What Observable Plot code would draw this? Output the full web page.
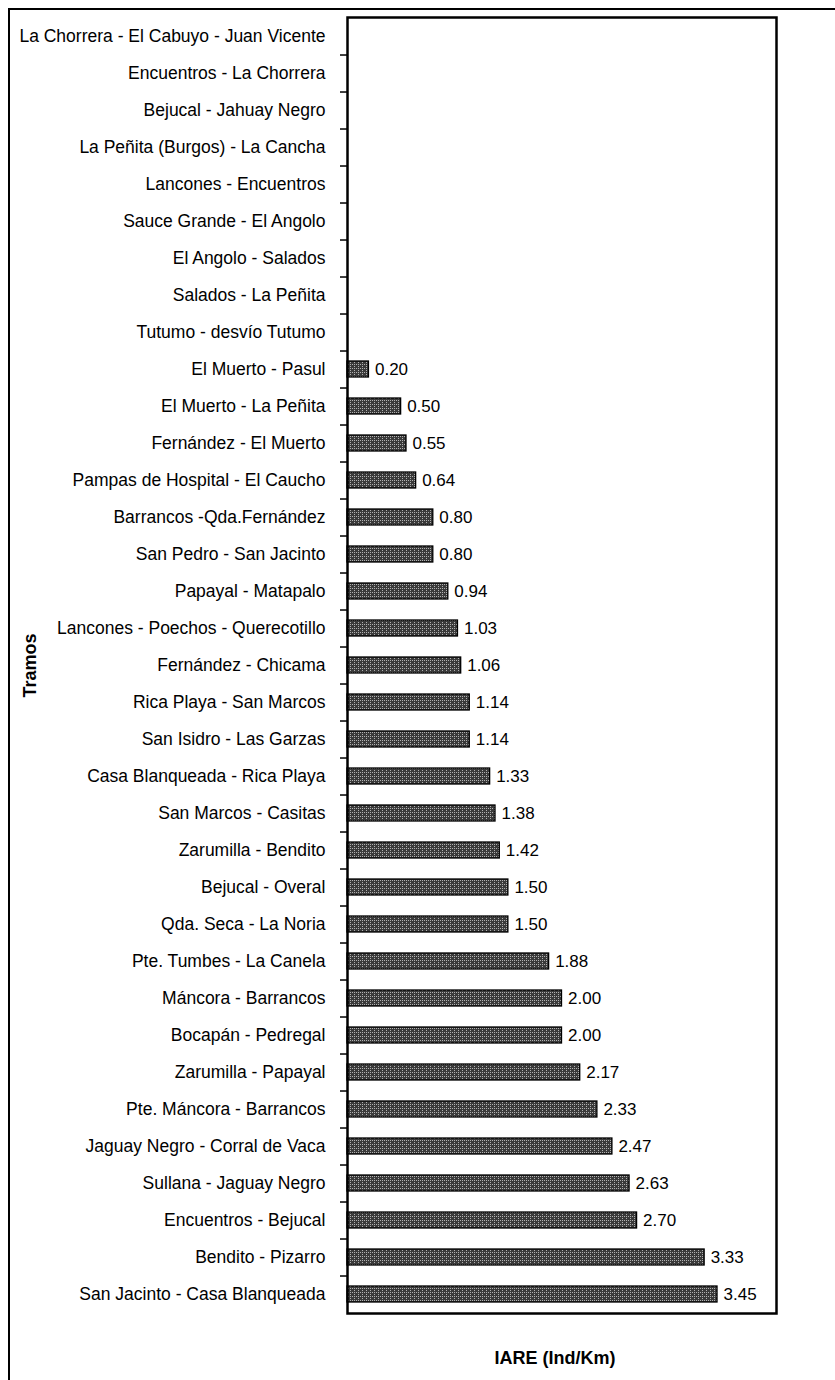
<!DOCTYPE html>
<html>
<head>
<meta charset="utf-8">
<script src="https://cdn.jsdelivr.net/npm/d3@7"></script>
<script src="https://cdn.jsdelivr.net/npm/@observablehq/plot@0.6"></script>
<style>
  html, body { margin: 0; padding: 0; background: #fff; }
  #wrap { position: relative; width: 835px; height: 1380px; overflow: hidden; }
  #border { position: absolute; left: 8px; top: 8px; width: 900px; height: 1450px;
            border-left: 2px solid #000; border-top: 2px solid #000; }
  #chart { position: absolute; left: 0; top: 0; }
  svg { font-family: "Liberation Sans", Arial, sans-serif; }
</style>
</head>
<body>
<div id="wrap"><div id="border"></div><div id="chart"></div></div>
<script>
const tramos = [
  "La Chorrera - El Cabuyo - Juan Vicente",
  "Encuentros - La Chorrera",
  "Bejucal - Jahuay Negro",
  "La Peñita (Burgos) - La Cancha",
  "Lancones - Encuentros",
  "Sauce Grande - El Angolo",
  "El Angolo - Salados",
  "Salados - La Peñita",
  "Tutumo - desvío Tutumo",
  "El Muerto - Pasul",
  "El Muerto - La Peñita",
  "Fernández - El Muerto",
  "Pampas de Hospital - El Caucho",
  "Barrancos -Qda.Fernández",
  "San Pedro - San Jacinto",
  "Papayal - Matapalo",
  "Lancones - Poechos - Querecotillo",
  "Fernández - Chicama",
  "Rica Playa - San Marcos",
  "San Isidro - Las Garzas",
  "Casa Blanqueada - Rica Playa",
  "San Marcos - Casitas",
  "Zarumilla - Bendito",
  "Bejucal - Overal",
  "Qda. Seca - La Noria",
  "Pte. Tumbes - La Canela",
  "Máncora - Barrancos",
  "Bocapán - Pedregal",
  "Zarumilla - Papayal",
  "Pte. Máncora - Barrancos",
  "Jaguay Negro - Corral de Vaca",
  "Sullana - Jaguay Negro",
  "Encuentros - Bejucal",
  "Bendito - Pizarro",
  "San Jacinto - Casa Blanqueada"
];
const iare = [
  null, null, null, null, null, null, null, null, null,
  0.20, 0.50, 0.55, 0.64, 0.80, 0.80, 0.94, 1.03, 1.06, 1.14, 1.14,
  1.33, 1.38, 1.42, 1.50, 1.50, 1.88, 2.00, 2.00, 2.17, 2.33,
  2.47, 2.63, 2.70, 3.33, 3.45
];
const xDomain = [0, 4];
const xTitle = "IARE (Ind/Km)";
const yTitle = "Tramos";

const rows = tramos.map((t, i) => ({tramo: t, value: iare[i]}));
const withValue = rows.filter(d => d.value != null);

const W = 835, H = 1380;
const mL = 347, mR = 59, mT = 17, mB = 67;
const step = (H - mT - mB) / tramos.length;

const chart = Plot.plot({
  width: W, height: H,
  marginLeft: mL, marginRight: mR, marginTop: mT, marginBottom: mB,
  style: {fontFamily: '"Liberation Sans", Arial, sans-serif', background: "transparent", overflow: "visible"},
  x: {domain: xDomain, axis: null},
  y: {domain: tramos, paddingInner: 0.56, paddingOuter: 0.28, axis: null},
  marks: [
    Plot.axisY({tickSize: 0, tickPadding: 22, fontSize: 17.5, fill: "#000", label: null}),
    // tick marks at the boundaries between categories, pointing outward
    Plot.ruleY(tramos.slice(0, -1), {y: d => d, x1: 0, x2: 0, insetLeft: -7, dy: step / 2, stroke: "#000", strokeWidth: 1.5}),
    Plot.barX(withValue, {y: "tramo", x: "value", fill: "url(#stipple)", stroke: "#000", strokeWidth: 1.3}),
    Plot.text(withValue, {y: "tramo", x: "value", text: d => d.value.toFixed(2), dx: 6, textAnchor: "start", fontSize: 17, fill: "#000"}),
    Plot.frame({stroke: "#000", strokeWidth: 2.5}),
    Plot.text([yTitle], {frameAnchor: "left", dx: -317, rotate: -90, textAnchor: "middle", lineAnchor: "middle", fontWeight: "bold", fontSize: 18, fill: "#000"}),
    Plot.text([xTitle], {frameAnchor: "bottom", dy: 45, dx: -7, textAnchor: "middle", lineAnchor: "middle", fontWeight: "bold", fontSize: 18, fill: "#000"})
  ]
});

// stippled fill pattern for the bars
const ns = "http://www.w3.org/2000/svg";
const defs = document.createElementNS(ns, "defs");
const pat = document.createElementNS(ns, "pattern");
pat.setAttribute("id", "stipple");
pat.setAttribute("width", "4");
pat.setAttribute("height", "4");
pat.setAttribute("patternUnits", "userSpaceOnUse");
const bg = document.createElementNS(ns, "rect");
bg.setAttribute("width", "4"); bg.setAttribute("height", "4"); bg.setAttribute("fill", "#3a3a3a");
pat.appendChild(bg);
[[0,0],[2,2],[2,0]].forEach(([x, y]) => {
  const r = document.createElementNS(ns, "rect");
  r.setAttribute("x", x); r.setAttribute("y", y);
  r.setAttribute("width", "1"); r.setAttribute("height", "1");
  r.setAttribute("fill", "#b0b0b0");
  pat.appendChild(r);
});
defs.appendChild(pat);
chart.insertBefore(defs, chart.firstChild);

document.getElementById("chart").appendChild(chart);
</script>
</body>
</html>
